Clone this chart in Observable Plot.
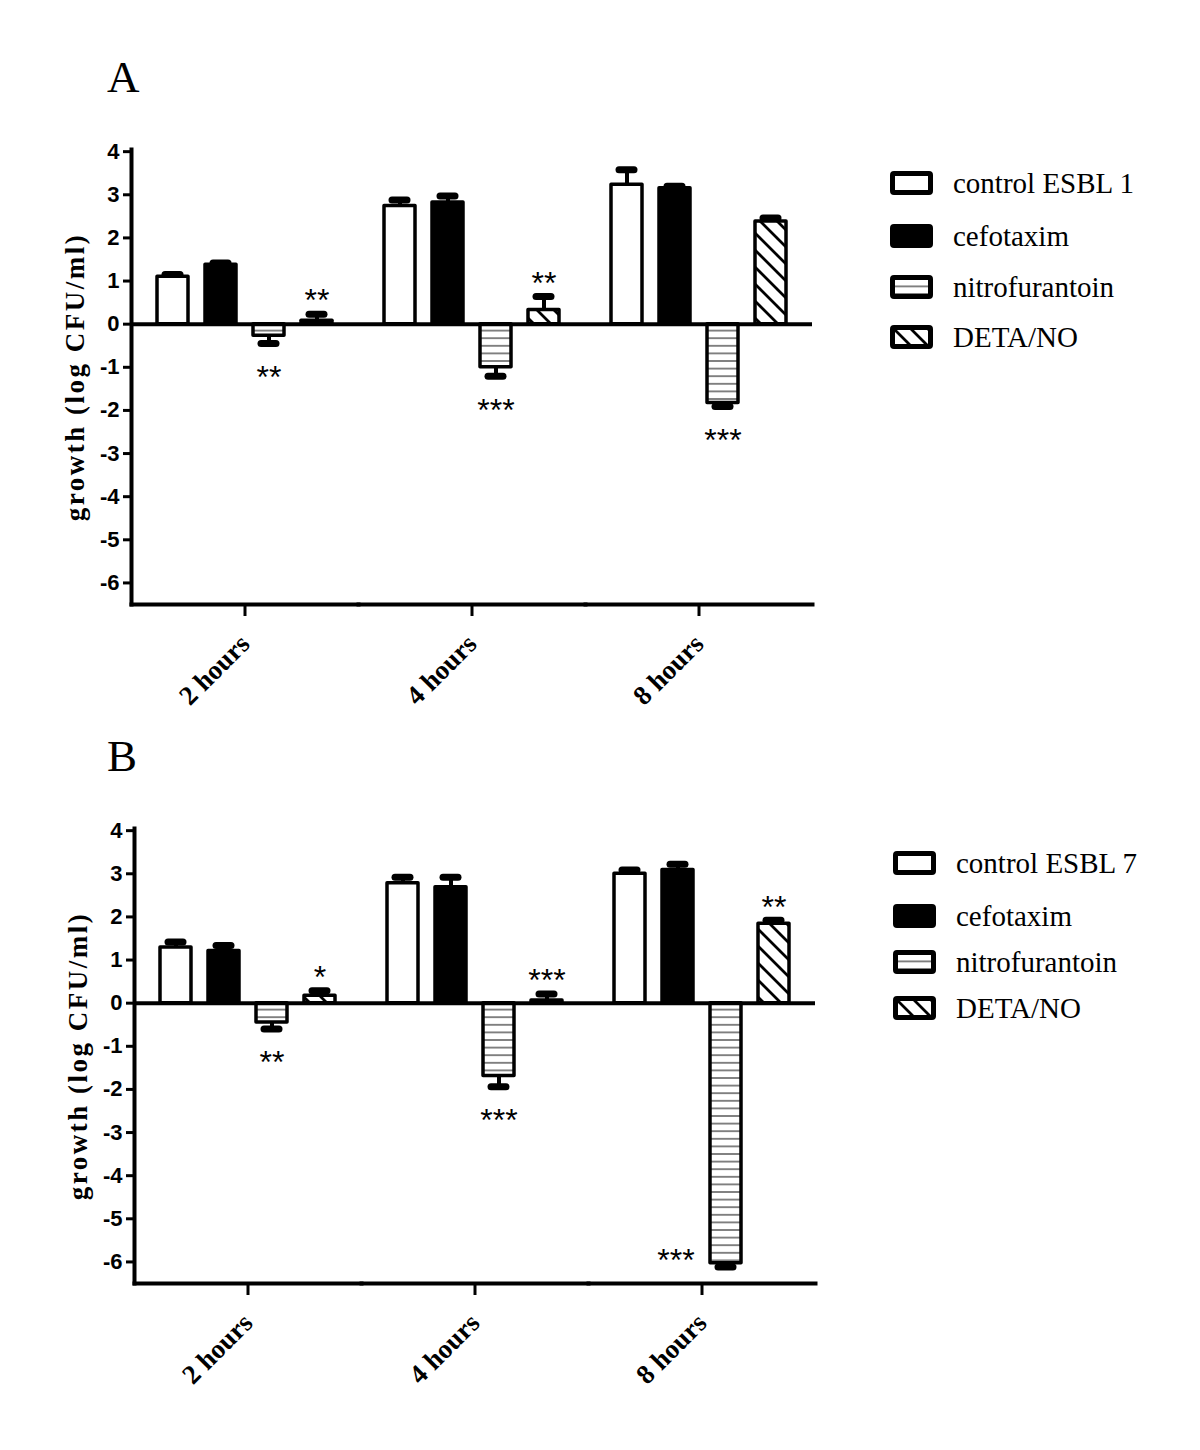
<!DOCTYPE html>
<html><head><meta charset="utf-8">
<script src="https://cdn.jsdelivr.net/npm/d3@7"></script>
<script src="https://cdn.jsdelivr.net/npm/@observablehq/plot@0.6"></script>
<style>
body{margin:0;background:#fff;}
#root{position:relative;width:1200px;height:1450px;background:#fff;overflow:hidden;}
.panel{position:absolute;}
.panel svg{background:transparent;}
.letter{position:absolute;font-family:"Liberation Serif";font-size:45px;line-height:45px;color:#000;z-index:5;}
.legend{position:absolute;font-family:"Liberation Serif";font-size:29px;color:#000;}
.legend .row{position:absolute;left:0;height:40px;display:flex;align-items:center;white-space:nowrap;}
.legend svg{margin-right:20px;flex:none;}
</style></head><body>
<svg width="0" height="0" style="position:absolute">
<defs>
<pattern id="hlines" patternUnits="userSpaceOnUse" width="8" height="7.6"><rect width="8" height="7.6" fill="white"/><line x1="0" x2="8" y1="3.8" y2="3.8" stroke="#444" stroke-width="1.3"/></pattern>
<pattern id="diag" patternUnits="userSpaceOnUse" width="17" height="17"><rect width="17" height="17" fill="white"/><path d="M0,0L17,17M-4,13L4,21M13,-4L21,4" stroke="black" stroke-width="2.8"/></pattern>
</defs></svg>
<div id="root">
  <div class="panel" id="panelA" style="left:0px;top:0px;"></div>
  <div class="panel" id="panelB" style="left:3px;top:679px;"></div>
  <div class="legend" id="legendA" style="left:890px;top:0px;"></div>
  <div class="legend" id="legendB" style="left:893px;top:0px;"></div>
  <div class="letter" style="left:107px;top:55px;">A</div>
  <div class="letter" style="left:107px;top:734px;">B</div>
</div>
<script>
// ---- data ----
const times = ["2 hours", "4 hours", "8 hours"];
const seriesA = ["control ESBL 1", "cefotaxim", "nitrofurantoin", "DETA/NO"];
const seriesB = ["control ESBL 7", "cefotaxim", "nitrofurantoin", "DETA/NO"];
// rows: times, columns: series
const meanA = [[1.10, 1.38, -0.27, 0.08], [2.74, 2.82, -1.00, 0.33], [3.23, 3.15, -1.83, 2.38]];
const semA  = [[0.05, 0.04, 0.18, 0.15], [0.14, 0.15, 0.21, 0.31], [0.35, 0.05, 0.08, 0.08]];
const meanB = [[1.29, 1.21, -0.45, 0.17], [2.78, 2.69, -1.69, 0.06], [3.00, 3.09, -6.03, 1.84]];
const semB  = [[0.13, 0.13, 0.15, 0.12], [0.14, 0.23, 0.25, 0.15], [0.09, 0.13, 0.09, 0.08]];
const yTicks = [-6, -5, -4, -3, -2, -1, 0, 1, 2, 3, 4];
const yLabel = "growth (log CFU/ml)";
// significance marks: time, series index, label, side
const starsA = [
  {time: "2 hours", s: 2, label: "**", side: "below"},
  {time: "2 hours", s: 3, label: "**", side: "above"},
  {time: "4 hours", s: 2, label: "***", side: "below"},
  {time: "4 hours", s: 3, label: "**", side: "above"},
  {time: "8 hours", s: 2, label: "***", side: "below"}
];
const starsB = [
  {time: "2 hours", s: 2, label: "**", side: "below"},
  {time: "2 hours", s: 3, label: "*", side: "above"},
  {time: "4 hours", s: 2, label: "***", side: "below"},
  {time: "4 hours", s: 3, label: "***", side: "above"},
  {time: "8 hours", s: 2, label: "***", side: "left"},
  {time: "8 hours", s: 3, label: "**", side: "above"}
];
// styles
const fills = ["white", "black", "url(#hlines)", "url(#diag)"];

function chart(series, mean, sem, stars) {
  const data = times.flatMap((t, i) => series.map((s, j) => ({time: t, series: s, value: mean[i][j], err: sem[i][j]})));
  const end = d => d.value + Math.sign(d.value) * d.err;
  const ann = stars.map(a => {
    const d = data.find(e => e.time === a.time && e.series === series[a.s]);
    return {...d, label: a.label, side: a.side};
  });
  const starOpts = {fx: "time", x: "series", text: "label", fontSize: 32, fontFamily: "Liberation Sans", fill: "black"};
  const svg = Plot.plot({
    width: 830, height: 730,
    marginLeft: 131, marginRight: 18, marginTop: 149, marginBottom: 126,
    style: {fontFamily: "Liberation Sans", background: "transparent", overflow: "visible", color: "black"},
    fx: {domain: times, padding: 0, label: null},
    x: {domain: series, paddingInner: 0.36, paddingOuter: 0.5, axis: null},
    y: {domain: [-6.5, 4.05], axis: null},
    color: {type: "ordinal", domain: series, range: fills},
    marks: [
      Plot.barY(data, {fx: "time", x: "series", y: "value", fill: "series", stroke: "black", strokeWidth: 3.5, strokeLinejoin: "round"}),
      Plot.ruleX(data, {fx: "time", x: "series", y1: "value", y2: end, stroke: "black", strokeWidth: 4}),
      Plot.tickY(data, {fx: "time", x: "series", y: end, stroke: "black", strokeWidth: 7, strokeLinecap: "round", inset: 8}),
      Plot.ruleY([0], {stroke: "black", strokeWidth: 4}),
      Plot.frame({anchor: "bottom", stroke: "black", strokeWidth: 4}),
      Plot.frame({anchor: "left", stroke: "black", strokeWidth: 4, facetAnchor: "left"}),
      Plot.axisY({ticks: yTicks, tickSize: 8, tickPadding: 4, strokeWidth: 3, fontSize: 22, fontWeight: "bold", label: null, tickFormat: d => String(d)}),
      Plot.axisFx({anchor: "bottom", tickSize: 12, tickPadding: 23, tickRotate: -45, strokeWidth: 3, fontSize: 27, fontWeight: "bold", fontFamily: "Liberation Serif", label: null}),
      Plot.text([yLabel], {text: d => d, frameAnchor: "left", textAnchor: "middle", dx: -56, rotate: -90, fontSize: 27, fontWeight: "bold", fontFamily: "Liberation Serif", facetAnchor: "left", fill: "black"}),
      Plot.text(ann.filter(a => a.side === "above"), {...starOpts, y: end, dy: -13}),
      Plot.text(ann.filter(a => a.side === "below"), {...starOpts, y: end, dy: 34}),
      Plot.text(ann.filter(a => a.side === "left"), {...starOpts, y: "value", dy: -2, dx: -50})
    ]
  });
  d3.select(svg).selectAll("text").filter(function() { return this.textContent === yLabel; })
    .attr("letter-spacing", 2.5);
  return svg;
}

function legend(el, series, color, centers) {
  series.forEach((s, i) => {
    const row = document.createElement("div");
    row.className = "row";
    row.style.top = (centers[i] - 20) + "px";
    row.innerHTML = `<svg width="43" height="24"><rect x="2.5" y="2.5" width="38" height="19" rx="1.5" fill="${color.apply(s)}" stroke="black" stroke-width="5"/></svg><span></span>`;
    row.querySelector("span").textContent = s;
    el.appendChild(row);
  });
}

const cA = chart(seriesA, meanA, semA, starsA);
const cB = chart(seriesB, meanB, semB, starsB);
document.getElementById("panelA").appendChild(cA);
document.getElementById("panelB").appendChild(cB);
legend(document.getElementById("legendA"), seriesA, cA.scale("color"), [183, 236, 287, 337]);
legend(document.getElementById("legendB"), seriesB, cB.scale("color"), [863, 916, 962, 1008]);
</script>
</body></html>
